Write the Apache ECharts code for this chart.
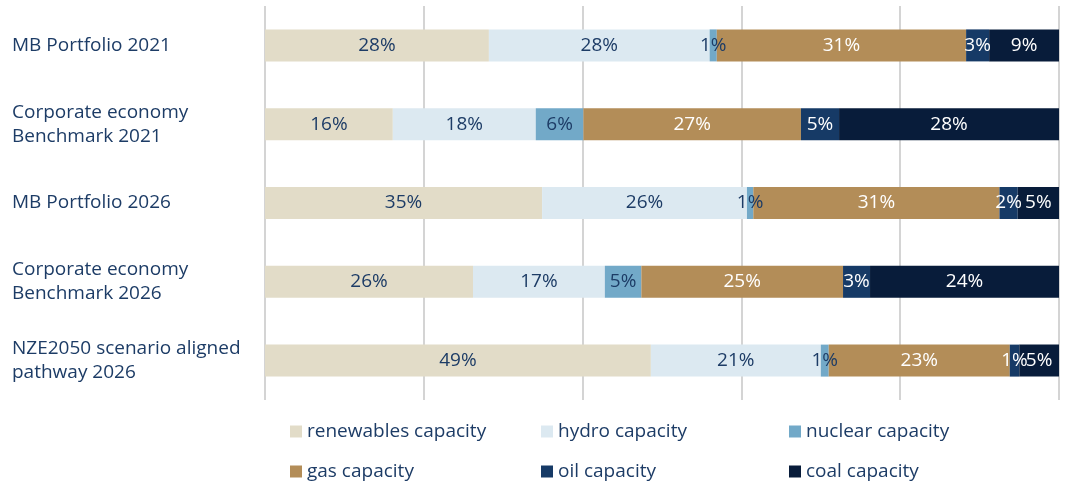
<!DOCTYPE html>
<html>
<head>
<meta charset="utf-8">
<script src="https://cdn.jsdelivr.net/npm/echarts@6/dist/echarts.min.js"></script>
<style>html,body{margin:0;padding:0;background:#fff}#c{width:1066px;height:486px}</style>
</head>
<body>
<div id="c"></div>
<script>
const categories = [
  "MB Portfolio 2021",
  "Corporate economy\nBenchmark 2021",
  "MB Portfolio 2026",
  "Corporate economy\nBenchmark 2026",
  "NZE2050 scenario aligned\npathway 2026"
];
const seriesNames = ["renewables capacity","hydro capacity","nuclear capacity","gas capacity","oil capacity","coal capacity"];
const renewables = [28.2, 16.1, 34.9, 26.2, 48.6];
const hydro      = [27.8, 18.0, 25.8, 16.6, 21.4];
const nuclear    = [0.9, 6.0, 0.8, 4.6, 1.0];
const gas        = [31.4, 27.4, 31.0, 25.4, 22.8];
const oil        = [2.9, 4.8, 2.3, 3.4, 1.2];
const coal       = [8.8, 27.7, 5.2, 23.8, 5.0];
const xTicks = [0, 20, 40, 60, 80, 100];

const colors = ["#e2dcc8","#dce9f1","#72a9c8","#b38d58","#163a66","#081c3a"];
const labelColors = ["#1d3c66","#1d3c66","#1d3c66","#ffffff","#ffffff","#ffffff"];
const values = [renewables, hydro, nuclear, gas, oil, coal];
const FONT = "Open Sans";

const series = seriesNames.map((n, i) => ({
  name: n, type: 'bar', stack: 'total', barWidth: 32,
  data: values[i],
  itemStyle: { color: colors[i] },
  label: {
    show: true, position: 'inside',
    formatter: p => Math.round(p.value) + '%',
    color: labelColors[i], fontFamily: FONT, fontSize: 19
  },
  emphasis: { disabled: true }
}));

const legendLeft = [285, 536, 784];
const legends = seriesNames.map((n, i) => ({
  data: [n], left: legendLeft[i % 3], top: i < 3 ? 417 : 457,
  itemWidth: 12, itemHeight: 12, itemGap: 0, icon: 'rect', selectedMode: false,
  textStyle: { color: '#1d3c66', fontFamily: FONT, fontSize: 19 }
}));

const chart = echarts.init(document.getElementById('c'), null, { renderer: 'canvas' });
chart.setOption({
  animation: false,
  grid: { left: 265, right: 7, top: 6, bottom: 86, containLabel: false },
  xAxis: {
    type: 'value', min: xTicks[0], max: xTicks[xTicks.length - 1], interval: 20,
    axisLabel: { show: false }, axisTick: { show: false }, axisLine: { show: false },
    splitLine: { show: true, lineStyle: { color: '#d4d4d4', width: 2 } }
  },
  yAxis: {
    type: 'category', inverse: true, data: categories,
    axisTick: { show: false },
    axisLine: { show: false },
    axisLabel: { align: 'left', margin: 253, color: '#1d3c66', fontFamily: FONT, fontSize: 19, lineHeight: 24 }
  },
  legend: legends,
  series: series
});
</script>
</body>
</html>
